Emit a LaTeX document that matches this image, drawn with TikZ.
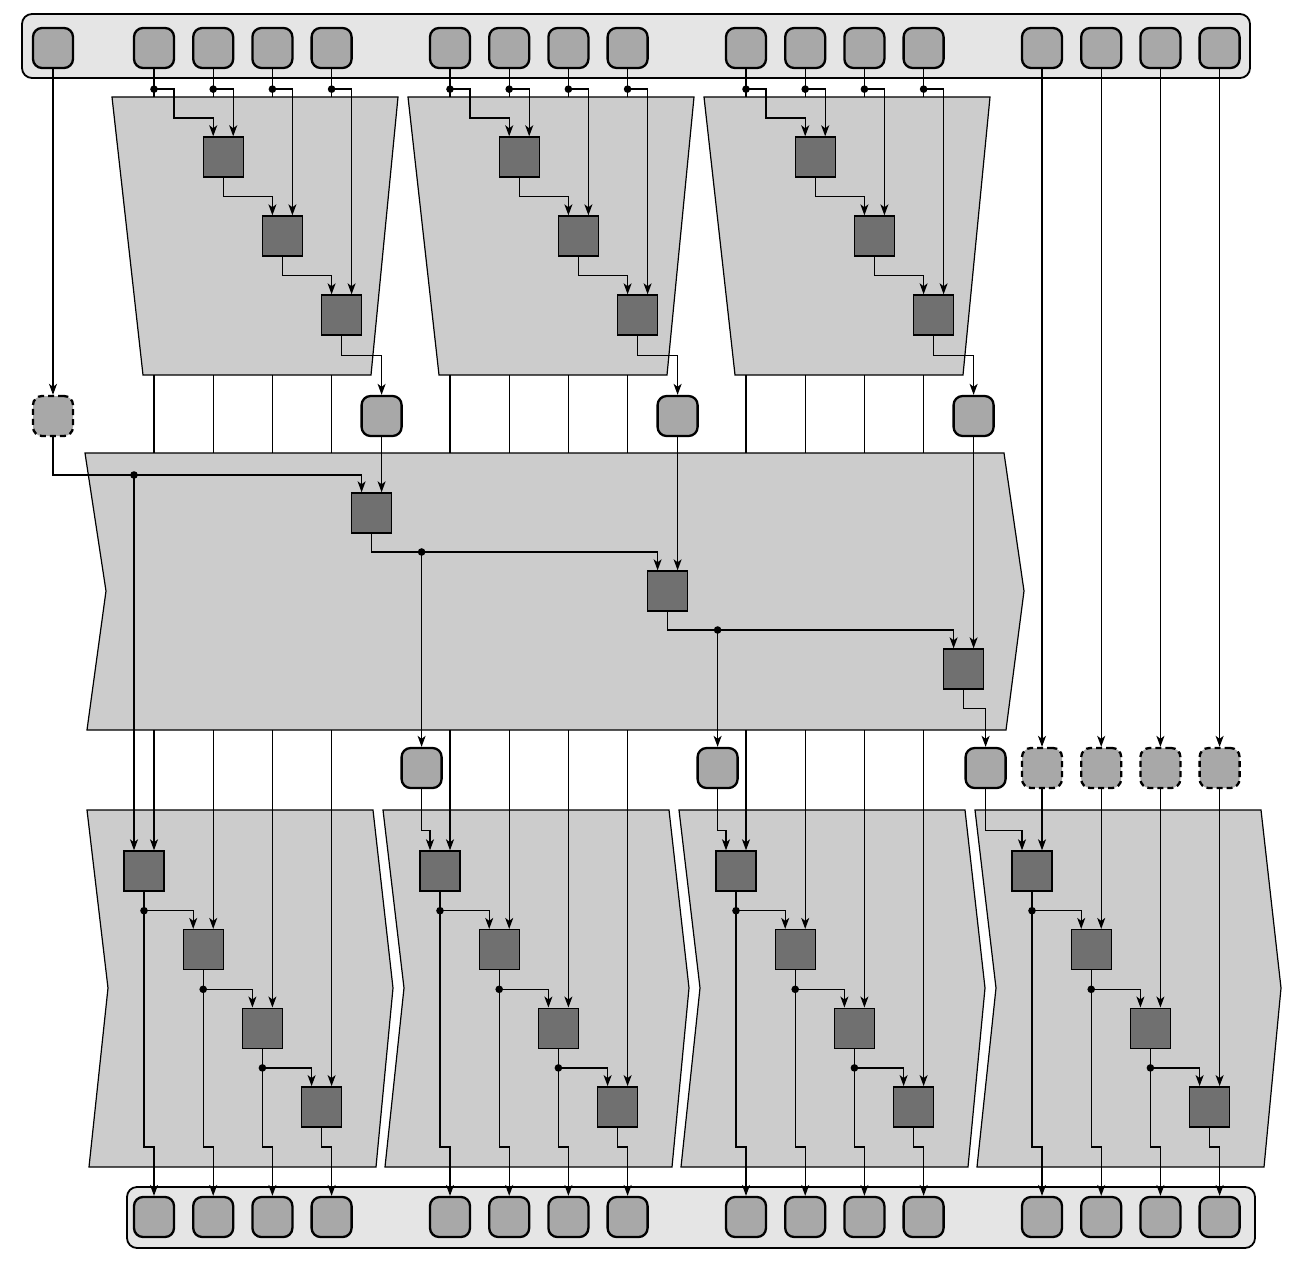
\documentclass[tikz,border=0pt]{standalone}
\usetikzlibrary{arrows.meta}
\definecolor{bargray}{gray}{0.90}
\definecolor{blockgray}{gray}{0.80}
\definecolor{cellgray}{gray}{0.66}
\definecolor{gategray}{gray}{0.44}
\begin{document}
\begin{tikzpicture}[x=1pt,y=-1pt,
    bar/.style={draw,line width=1.8pt,rounded corners=10pt,fill=bargray},
    block/.style={draw,line width=1.2pt,fill=blockgray},
    cell/.style={draw,line width=2.3pt,rounded corners=9pt,fill=cellgray,
      minimum size=40pt,inner sep=0pt},
    dcell/.style={cell,dash pattern=on 6pt off 4pt},
    gate/.style={draw,line width=1.4pt,fill=gategray,minimum size=40pt,inner sep=0pt},
    wire/.style={line width=1.3pt},
    arr/.style={wire,-{Stealth[length=11pt,width=8pt,inset=3pt]}}]
  \useasboundingbox (0,0) rectangle (1300,1260);
  % bars and blocks
  \draw[bar] (22,14) rectangle (1250,78);
  \draw[bar] (127,1187) rectangle (1255,1248);
  \foreach \g in {0,1,2} {
    \pgfmathsetmacro\xo{154+296*\g}
    \draw[block] (\xo-42,97) -- (\xo+244,97) -- (\xo+217,375) -- (\xo-11,375) -- cycle;
  }
  \draw[block] (85,453) -- (1004,453) -- (1024,591) -- (1006,730) -- (87,730)
    -- (106,591) -- cycle;
  \foreach \g in {0,...,3} {
    \pgfmathsetmacro\xo{154+296*\g}
    \draw[block] (\xo-67,810) -- (\xo+219,810) -- (\xo+239,988) -- (\xo+222,1167)
      -- (\xo-65,1167) -- (\xo-46,988) -- cycle;
  }
  \coordinate (ttop) at (0,97);
  \coordinate (tbot) at (0,375);
  \coordinate (bandtop) at (0,453);
  \coordinate (bandbot) at (0,730);
  % cells and gates
  \node[cell] (cin) at (53,48) {};
  \node[dcell] (cind) at (53,416) {};
  \foreach \g in {0,...,3} {
    \foreach \k in {0,...,3} {
      \node[cell] (tc\g\k) at ({154+296*\g+59.2*\k},48) {};
      \node[cell] (bc\g\k) at ({154+296*\g+59.2*\k},1217) {};
      \node[gate] (lb\g\k) at ({144+296*\g+59.2*\k},{871+78.6*\k}) {};
    }
  }
  \foreach \g in {0,1,2} {
    \foreach \j in {1,2,3}
      \node[gate] (tb\g\j) at ({164+296*\g+59.2*\j},{157+79*(\j-1)}) {};
    \node[cell] (gc\g) at ({381.6+296*\g},416) {};
    \node[gate] (mb\g) at ({371.6+296*\g},{513+78*\g}) {};
  }
  \foreach \k in {0,...,3}
    \node[dcell] (dc\k) at ({1042+59.2*\k},768) {};
  \node[cell] (lc1) at (421.6,768) {};
  \node[cell] (lc2) at (717.6,768) {};
  \node[cell] (lc3) at (985.6,768) {};
  \coordinate (cdot) at (134,475);
  \coordinate (mdot0) at (421.6,552);
  \coordinate (mdot1) at (717.6,630);
  % top blocks
  \foreach \g in {0,1,2} {
    \foreach \k in {0,...,3} {
      \draw[wire] (tc\g\k.south) -- (tc\g\k.south |- ttop);
      \path (tc\g\k.south) ++(0,20) coordinate (td\g\k);
      \fill (td\g\k) circle (3.8pt);
      \draw[wire] (tc\g\k.south |- tbot) -- (tc\g\k.south |- bandtop);
      \draw[arr] (tc\g\k.south |- bandbot) -- ([xshift=10pt]lb\g\k.north);
    }
    \draw[arr] (td\g0) -- ++(20,0) -- ++(0,29) -| ([xshift=-10pt]tb\g1.north);
    \foreach \k in {1,2,3}
      \draw[arr] (td\g\k) -| ([xshift=10pt]tb\g\k.north);
    \foreach \j [count=\jj from 2] in {1,2}
      \draw[arr] (tb\g\j.south) -- ++(0,19) -| ([xshift=-10pt]tb\g\jj.north);
    \draw[arr] (tb\g3.south) -- ++(0,20) -| (gc\g.north);
    \draw[arr] (gc\g.south) -- ([xshift=10pt]mb\g.north);
  }
  % carry chain
  \draw[arr] (cin.south) -- (cind.north);
  \draw[arr] (cind.south) |- (cdot) -| ([xshift=-10pt]mb0.north);
  \draw[arr] (cdot) -- ([xshift=-10pt]lb00.north);
  \draw[arr] (mb0.south) |- (mdot0) -| ([xshift=-10pt]mb1.north);
  \draw[arr] (mb1.south) |- (mdot1) -| ([xshift=-10pt]mb2.north);
  \draw[arr] (mb2.south) -- ++(0,19) -| (lc3.north);
  \draw[arr] (mdot0) -- (lc1.north);
  \draw[arr] (mdot1) -- (lc2.north);
  \fill (cdot) circle (3.8pt);
  \fill (mdot0) circle (3.8pt);
  \fill (mdot1) circle (3.8pt);
  \foreach \g in {1,2,3}
    \draw[arr] (lc\g.south) -- ++(0,41) -| ([xshift=-10pt]lb\g0.north);
  \foreach \k in {0,...,3} {
    \draw[arr] (tc3\k.south) -- (dc\k.north);
    \draw[arr] (dc\k.south) -- ([xshift=10pt]lb3\k.north);
  }
  % bottom blocks
  \foreach \g in {0,...,3} {
    \foreach \j [count=\jj from 1] in {0,1,2} {
      \draw[arr] (lb\g\j.south) -- ++(0,19) coordinate (ld\g\j)
        -| ([xshift=-10pt]lb\g\jj.north);
      \fill (ld\g\j) circle (3.8pt);
      \draw[arr] (ld\g\j) |- ([yshift=49pt]bc\g\j.north) -- (bc\g\j.north);
    }
    \draw[arr] (lb\g3.south) |- ([yshift=49pt]bc\g3.north) -- (bc\g3.north);
  }
\end{tikzpicture}
\end{document}
